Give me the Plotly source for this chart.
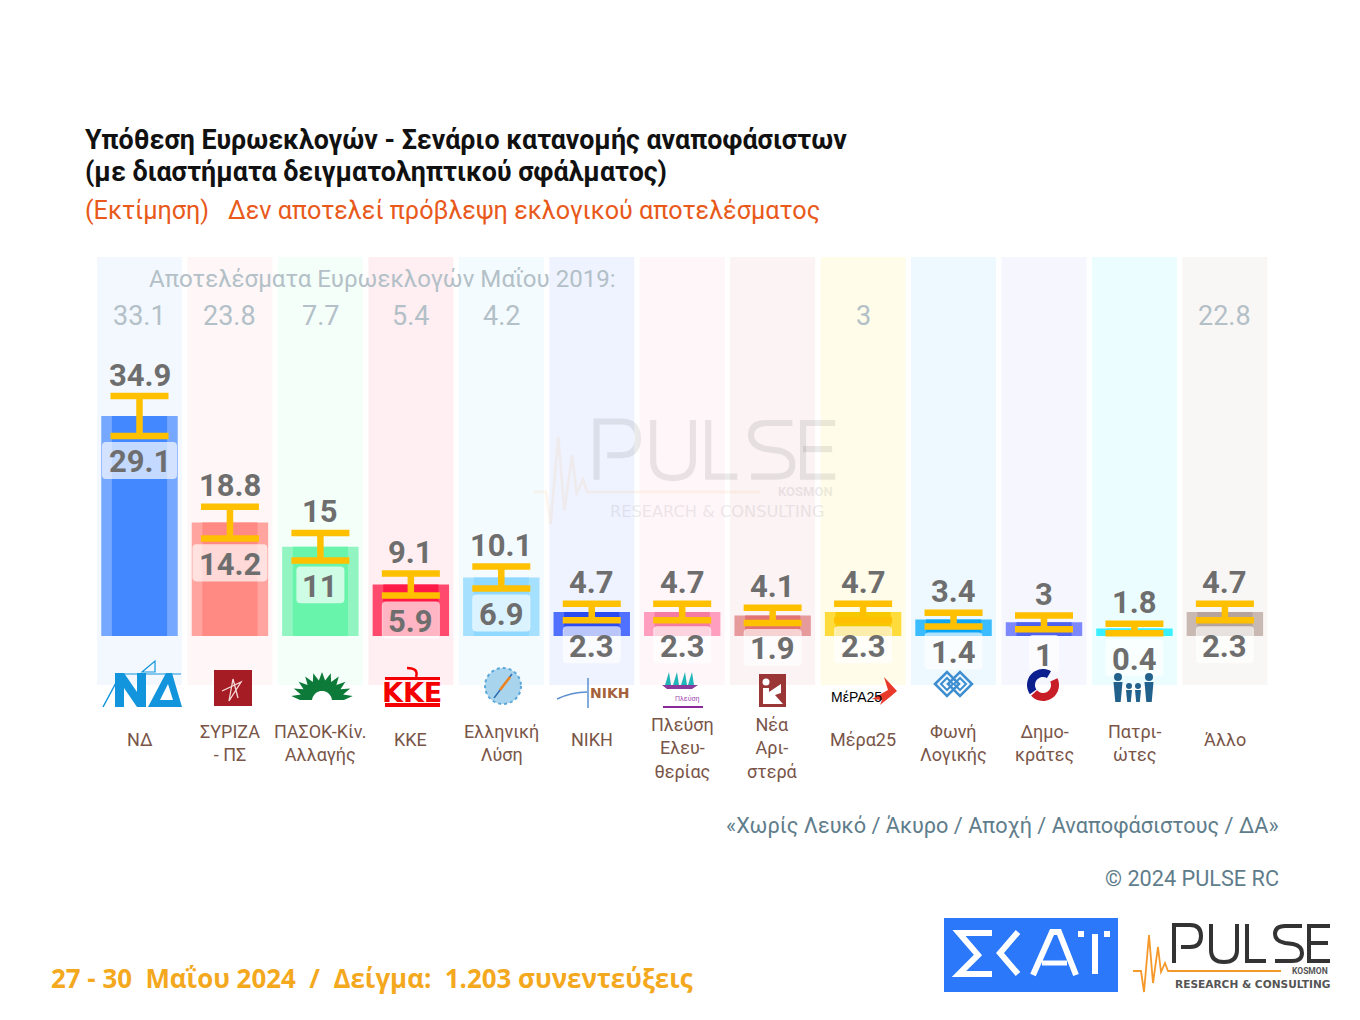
import math
import numpy as np
import plotly.graph_objects as go

W, H = 1360, 1020

# --- Data ---
parties = ["ΝΔ", "ΣΥΡΙΖΑ - ΠΣ", "ΠΑΣΟΚ-Κίν. Αλλαγής", "ΚΚΕ", "Ελληνική Λύση", "ΝΙΚΗ",
           "Πλεύση Ελευθερίας", "Νέα Αριστερά", "Μέρα25", "Φωνή Λογικής", "Δημοκράτες",
           "Πατριώτες", "Άλλο"]
party_labels = ["ΝΔ", "ΣΥΡΙΖΑ<br>- ΠΣ", "ΠΑΣΟΚ-Κίν.<br>Αλλαγής", "ΚΚΕ", "Ελληνική<br>Λύση", "ΝΙΚΗ",
                "Πλεύση<br>Ελευ-<br>θερίας", "Νέα<br>Αρι-<br>στερά", "Μέρα25", "Φωνή<br>Λογικής",
                "Δημο-<br>κράτες", "Πατρι-<br>ώτες", "Άλλο"]
estimate = [32, 16.5, 13, 7.5, 8.5, 3.5, 3.5, 3, 3.5, 2.4, 2, 1.1, 3.5]
low = [29.1, 14.2, 11, 5.9, 6.9, 2.3, 2.3, 1.9, 2.3, 1.4, 1, 0.4, 2.3]
high = [34.9, 18.8, 15, 9.1, 10.1, 4.7, 4.7, 4.1, 4.7, 3.4, 3, 1.8, 4.7]
results_2019 = ["33.1", "23.8", "7.7", "5.4", "4.2", "", "", "", "3", "", "", "", "22.8"]

band_colors = ["#f3f8ff", "#fff7f7", "#f4fff9", "#ffeff2", "#f4fbff", "#eff3ff", "#fff6fa",
               "#fbf3f4", "#fffcea", "#eef9ff", "#f6f6ff", "#ecfdff", "#f9f7f6"]
outer_colors = ["#76a8ff", "#ffa49e", "#92f5c1", "#ff4a6e", "#a6e0ff", "#5070ff", "#ff9ebf",
                "#e79a9c", "#ffdc3c", "#3bbcff", "#7d88ff", "#38f0ff", "#c9b9b3"]
inner_colors = ["#4488ff", "#ff8a83", "#69f4ac", "#ff1a47", "#8fd8ff", "#2a4bf0", "#f57ba0",
                "#e37373", "#f5c800", "#0aa5f5", "#4f62ee", "#38f0ff", "#b5a39c"]

BODY_FONT = "Roboto"
NUM_FONT = "Roboto"

# Axis scale: one party slot = 90.45 px, one percent = 6.875 px, zero line at (139.5, 636)
PX_X = 90.45
PX_Y = 6.875
X_RANGE = [(0 - 139.5) / PX_X, (W - 139.5) / PX_X]
Y_RANGE = [(636 - H) / PX_Y, 636 / PX_Y]

x_pos = np.arange(len(parties))
band_bottom = (636 - 685) / PX_Y
band_top = (636 - 257) / PX_Y

fig = go.Figure()
fig.add_trace(go.Bar(x=x_pos, y=[band_top - band_bottom] * len(parties), base=band_bottom, width=0.94,
                     marker=dict(color=band_colors, line_width=0), hoverinfo="skip", name="φόντο"))
fig.add_trace(go.Bar(x=x_pos, y=estimate, width=0.845,
                     marker=dict(color=outer_colors, line_width=0), name="Εκτίμηση"))
fig.add_trace(go.Bar(x=x_pos, y=estimate, width=0.61,
                     marker=dict(color=inner_colors, line_width=0), name="Εκτίμηση",
                     error_y=dict(type="data", symmetric=False,
                                  array=[h - e for h, e in zip(high, estimate)],
                                  arrayminus=[e - l for e, l in zip(estimate, low)],
                                  color="#ffc000", thickness=6.5, width=29)))

shapes = []
annotations = []


# --- pixel helpers for the logos and furniture (paper coordinates) ---
def pt(x, y):
    return f"{x / W:.5f},{1 - y / H:.5f}"


def poly(points, closed=True):
    return "M" + " L".join(pt(x, y) for x, y in points) + (" Z" if closed else "")


def add_path(d, fill=None, color=None, width=0, opacity=1):
    shapes.append(dict(type="path", xref="paper", yref="paper", path=d, opacity=opacity,
                       fillcolor=fill if fill else "rgba(0,0,0,0)",
                       line=dict(color=color if color else "rgba(0,0,0,0)", width=width)))


def add_rect(x0, y0, x1, y1, fill, opacity=1):
    shapes.append(dict(type="rect", xref="paper", yref="paper", x0=x0 / W, x1=x1 / W,
                       y0=1 - y0 / H, y1=1 - y1 / H, fillcolor=fill, opacity=opacity, line_width=0))


def add_circle(cx, cy, r, fill=None, color=None, width=0, dash=None):
    line = dict(color=color if color else "rgba(0,0,0,0)", width=width)
    if dash:
        line["dash"] = dash
    shapes.append(dict(type="circle", xref="paper", yref="paper", x0=(cx - r) / W, x1=(cx + r) / W,
                       y0=1 - (cy - r) / H, y1=1 - (cy + r) / H,
                       fillcolor=fill if fill else "rgba(0,0,0,0)", line=line))


def text(x, y, s, size, color, font=BODY_FONT, bold=False, anchor="left", opacity=1):
    annotations.append(dict(x=x / W, y=1 - y / H, xref="paper", yref="paper", text=s, showarrow=False,
                            xanchor=anchor, yanchor="middle", align=anchor, opacity=opacity,
                            font=dict(family=font, size=size, color=color,
                                      weight=700 if bold else 400)))


def ring_sector(cx, cy, r0, r1, a0, a1):
    steps = 24
    angles = [math.radians(a0 + (a1 - a0) * i / steps) for i in range(steps + 1)]
    outer = [(cx + r1 * math.cos(a), cy - r1 * math.sin(a)) for a in angles]
    inner = [(cx + r0 * math.cos(a), cy - r0 * math.sin(a)) for a in reversed(angles)]
    return poly(outer + inner)


def pulse_logo(ox, oy, s, ink, sub, opacity=1.0, sub_opacity=1.0, bold_sub=True):
    # letters are drawn as strokes, the box is 157 x 39 at s=1
    def p(a, b):
        return pt(ox + a * s, oy + b * s)

    letters = [
        f"M{p(1, 39)} L{p(1, 1)} L{p(17, 1)} Q{p(28, 1)} {p(28, 12)} Q{p(28, 23)} {p(17, 23)} L{p(8, 23)}",
        f"M{p(38, 0)} L{p(38, 26)} Q{p(38, 38)} {p(51, 38)} Q{p(64, 38)} {p(64, 26)} L{p(64, 0)}",
        f"M{p(74, 0)} L{p(74, 37)} L{p(93, 37)}",
        f"M{p(129, 2)} L{p(112, 2)} Q{p(102, 2)} {p(102, 10)} Q{p(102, 17)} {p(112, 19)} "
        f"L{p(120, 20)} Q{p(129, 22)} {p(129, 29)} Q{p(129, 37)} {p(119, 37)} L{p(102, 37)}",
        f"M{p(157, 2)} L{p(136, 2)} L{p(136, 37)} L{p(157, 37)}",
        f"M{p(136, 19)} L{p(155, 19)}",
    ]
    for d in letters:
        add_path(d, color=ink, width=4 * s, opacity=opacity)
    trace = [(-40, 47), (-32, 47), (-29, 68), (-24, 11), (-20, 59), (-15, 23), (-12, 48), (-8, 39), (-5, 47), (108, 47)]
    add_path(poly([(ox + a * s, oy + b * s) for a, b in trace], False), color="#f5982a", width=1.8 * s, opacity=opacity)
    text(ox + 157 * s, oy + 47 * s, "KOSMON", 8.5 * s, sub, font="Roboto", bold=True, anchor="right", opacity=sub_opacity)
    text(ox + 79.5 * s, oy + 59.5 * s, "RESEARCH &amp; CONSULTING", 10.6 * s, sub, font="DejaVu Sans", bold=bold_sub,
         anchor="center", opacity=sub_opacity)


# --- white rounded boxes behind the lower values ---
def round_box(cx_value, top_px_below_low, low_value, w_px, h_px=37, r_px=4):
    cx = 139.5 + cx_value * PX_X
    top = 636 - low_value * PX_Y + top_px_below_low
    x0, x1, y0, y1 = cx - w_px / 2, cx + w_px / 2, top, top + h_px
    return (f"M{pt(x0 + r_px, y0)} L{pt(x1 - r_px, y0)} Q{pt(x1, y0)} {pt(x1, y0 + r_px)} L{pt(x1, y1 - r_px)} "
            f"Q{pt(x1, y1)} {pt(x1 - r_px, y1)} L{pt(x0 + r_px, y1)} Q{pt(x0, y1)} {pt(x0, y1 - r_px)} "
            f"L{pt(x0, y0 + r_px)} Q{pt(x0, y0)} {pt(x0 + r_px, y0)} Z")


box_widths = {1: 30, 2: 48, 3: 58, 4: 75}

pulse_logo(595, 420, 1.53, "#000000", "#000000", opacity=0.08, sub_opacity=0.07, bold_sub=False)

for i, (lo, hi) in enumerate(zip(low, high)):
    label_lo = f"{lo:g}"
    add_path(round_box(i, 6, lo, box_widths[len(label_lo)]), fill="rgba(255,255,255,0.68)")
    annotations.append(dict(x=i, y=hi, text=f"{hi:g}", showarrow=False, yanchor="middle", yshift=21,
                            font=dict(family=NUM_FONT, size=31, color="#6e6e6e", weight=700)))
    annotations.append(dict(x=i, y=lo, text=label_lo, showarrow=False, yanchor="middle", yshift=-26,
                            font=dict(family=NUM_FONT, size=31, color="#6e6e6e", weight=700)))
    if results_2019[i]:
        annotations.append(dict(x=i, y=(636 - 316) / PX_Y, text=results_2019[i], showarrow=False, yanchor="middle",
                                font=dict(family=NUM_FONT, size=27, color="#b3c0c7")))
    lines = party_labels[i].count("<br>") + 1
    annotations.append(dict(x=i, y=(636 - {1: 739, 2: 742.5, 3: 748}[lines]) / PX_Y, text=party_labels[i],
                            showarrow=False, yanchor="middle",
                            font=dict(family=BODY_FONT, size=18, color="#795548")))

# --- texts ---
text(83, 140, "Υπόθεση Ευρωεκλογών - Σενάριο κατανομής αναποφάσιστων", 26.8, "#111111", bold=True)
text(83, 172, "(με διαστήματα δειγματοληπτικού σφάλματος)", 26.8, "#111111", bold=True)
text(83, 211, "(Εκτίμηση)", 25.2, "#e8591a")
text(226, 211, "Δεν αποτελεί πρόβλεψη εκλογικού αποτελέσματος", 25.2, "#e8591a")
text(147, 279, "Αποτελέσματα Ευρωεκλογών Μαΐου 2019:", 24.1, "#b3c0c7")
text(1281, 825, "«Χωρίς Λευκό / Άκυρο / Αποχή / Αναποφάσιστους / ΔΑ»", 21.7, "#607d8b", anchor="right")
text(1281, 878, "© 2024 PULSE RC", 21.7, "#607d8b", anchor="right")
text(49, 978, "27 - 30\u00a0\u00a0Μαΐου 2024\u00a0\u00a0/\u00a0\u00a0Δείγμα:\u00a0\u00a01.203 συνεντεύξεις", 25.9, "#f4a81d",
     font="Open Sans", bold=True)

# --- party logos, roughly ---
ND_BLUE = "#1295dc"
add_path(poly([(115, 707), (115, 673), (124, 673), (137, 692), (137, 673), (146, 673), (146, 707), (137, 707), (124, 688), (124, 707)]), fill=ND_BLUE)
add_path(poly([(148, 707), (166, 673), (172, 673), (182, 707)]) + " " + poly([(160, 700), (173, 700), (168, 684)]), fill=ND_BLUE)
add_path(poly([(103, 707), (118, 679)], False), color=ND_BLUE, width=1.5)
add_path(poly([(118, 674), (181, 674)], False), color=ND_BLUE, width=1.2)
add_path(poly([(142, 672), (155, 661), (155, 672)]), color=ND_BLUE, width=1.2)

add_rect(214, 670, 252, 706, "#a51c24")
add_path(poly([(222, 691), (241, 682), (229, 701), (233, 679), (238, 698)], False), color="#f5dcdc", width=1.3)

sun = []
for k in range(23):
    r = 31 if k % 2 else 22
    a = math.radians(180 - k * 180 / 22)
    sun.append((322 + r * math.cos(a), 700 - r * 0.9 * math.sin(a)))
add_path(poly(sun), fill="#0e7a3a")
add_path(ring_sector(322, 701, 0, 10, 0, 180), fill="#ffffff")

add_rect(385, 677, 440, 680, "#f40000")
add_rect(385, 703, 440, 707, "#f40000")
text(412.5, 692, "ΚΚΕ", 27, "#f40000", font="DejaVu Sans", bold=True, anchor="center")
add_path(f"M{pt(407, 668)} Q{pt(419, 668)} {pt(416, 677)}", color="#f40000", width=2.5)

add_circle(503, 686, 18, fill="#a9d4ee", color="#5ba8d8", width=2, dash="dot")
add_path(poly([(494, 698), (512, 674)], False), color="#2f6fb0", width=1.5)
add_path(poly([(500, 690), (510, 677)], False), color="#f0821e", width=2.5)

add_path(f"M{pt(557, 699)} Q{pt(572, 692)} {pt(587, 692)}", color="#5b8fd0", width=1.5)
add_path(poly([(588, 678), (588, 708)], False), color="#5b8fd0", width=1.5)
text(610, 693, "ΝΙΚΗ", 14, "#a5623a", font="DejaVu Sans", bold=True, anchor="center")

for x0 in (665, 673, 681, 688):
    add_path(poly([(x0, 685), (x0 + 4, 672), (x0 + 6, 685)]), fill="#20b5b8")
add_path(poly([(662, 685), (698, 685), (692, 689), (667, 689)]), fill="#8a3a9a")
text(673, 698, "Πλεύση", 7, "#a04cb0", anchor="left")
add_path(poly([(663, 707), (703, 707)], False), color="#8a2a9a", width=2)

add_rect(759, 674, 786, 707, "#9b3636")
add_circle(766, 682, 3.5, fill="#ffffff")
add_path(poly([(763, 688), (769, 688), (769, 692), (781, 684), (781, 693), (775, 695), (783, 704), (763, 704)]), fill="#ffffff")

text(829, 697, "ΜέΡΑ25", 14, "#000000", font="Liberation Sans", anchor="left")
add_path(poly([(897, 691), (884, 677), (888, 690), (872, 699), (882, 700), (880, 705), (890, 697)]), fill="#e8392b")

for cx in (947, 960):
    add_path(poly([(cx - 12, 684), (cx, 672), (cx + 12, 684), (cx, 696)]), color="#3e8ed0", width=2.5)
    add_path(poly([(cx - 6, 684), (cx, 678), (cx + 6, 684), (cx, 690)]), color="#3e8ed0", width=2)

add_path(ring_sector(1043, 685, 8, 16, 60, 215), fill="#0b1f8f")
add_path(ring_sector(1043, 685, 8, 16, 222, 385), fill="#c81e28")

FAMILY = "#23618d"
for cx, head_y, head_r, body_w in ((1118, 677, 4, 4.5), (1129, 686, 3, 3), (1138, 686, 3, 3), (1149, 677, 4, 4.5)):
    add_circle(cx, head_y, head_r, fill=FAMILY)
    add_path(poly([(cx - body_w, head_y + head_r + 1), (cx + body_w, head_y + head_r + 1), (cx + body_w * 0.6, 702), (cx - body_w * 0.6, 702)]), fill=FAMILY)

# --- broadcaster and pollster logos ---
add_rect(944, 918, 1118, 992, "#2b78fb")
SKAI = "#ffffff"
add_path(poly([(992, 933), (959, 933), (978, 955), (959, 974), (992, 974)], False), color=SKAI, width=6)
add_path(poly([(1018, 932), (1000, 953), (1018, 974)], False), color=SKAI, width=6)
add_path(poly([(1033, 975), (1052, 932), (1059, 932), (1076, 975)], False), color=SKAI, width=6)
add_path(poly([(1042, 963), (1067, 963)], False), color=SKAI, width=5)
add_path(poly([(1095, 934), (1095, 974)], False), color=SKAI, width=6)
add_rect(1078, 931, 1084, 937, SKAI)
add_rect(1104, 931, 1110, 937, SKAI)

pulse_logo(1173, 924, 1, "#333333", "#555555")

fig.update_layout(
    width=W, height=H,
    margin=dict(l=0, r=0, t=0, b=0),
    paper_bgcolor="#ffffff", plot_bgcolor="#ffffff",
    barmode="overlay", showlegend=False,
    xaxis=dict(range=X_RANGE, visible=False, fixedrange=True),
    yaxis=dict(range=Y_RANGE, visible=False, fixedrange=True),
    shapes=shapes, annotations=annotations,
)

fig.write_html("out.html", config={"displayModeBar": False}, post_script="document.body.style.margin='0';")
